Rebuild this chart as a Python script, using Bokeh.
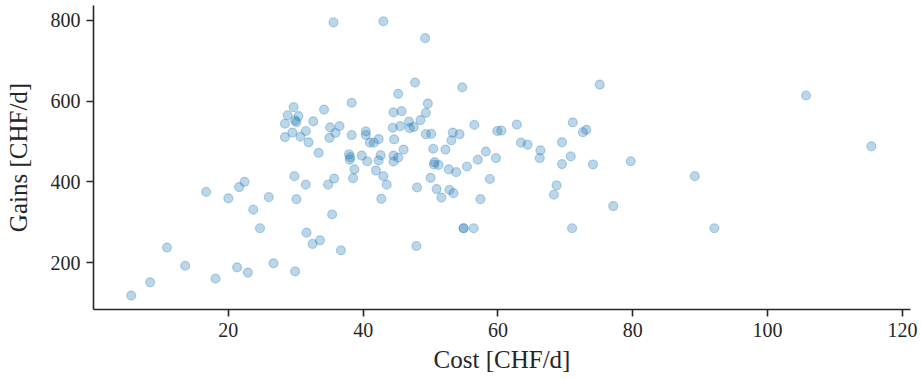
from bokeh.plotting import figure
from bokeh.models import FixedTicker, Range1d
from bokeh.embed import file_html
from bokeh.resources import INLINE

cost = [5.6, 8.4, 10.9, 13.6, 16.7, 18.1, 20.0, 21.3, 21.6, 22.4, 22.9, 23.7, 24.7, 26.0, 26.7,
        28.4, 28.4, 28.8, 29.5, 29.7, 29.8, 29.9, 29.9, 30.1, 30.1, 30.4, 30.7, 31.5, 31.5, 31.6,
        31.9, 32.5, 32.6, 33.4, 33.6, 34.2, 34.8, 35.0, 35.1, 35.4, 35.6, 35.7, 35.9, 36.5, 36.7,
        37.9, 38.1, 38.0, 38.3, 38.3, 38.5, 38.7, 39.8, 40.4, 40.4, 40.6, 41.0, 41.6, 41.9, 42.3,
        42.6, 42.3, 42.7, 43.0, 43.0, 43.5, 44.5, 44.4, 44.6, 44.5, 44.5, 45.2, 45.2, 45.5, 45.7,
        46.0, 46.8, 46.9, 47.5, 47.7, 47.9, 48.0, 48.5, 49.2, 49.3, 49.3, 49.6, 50.0, 50.1, 50.4,
        50.5, 50.6, 50.9, 51.2, 51.6, 52.2, 52.7, 52.8, 53.1, 53.3, 53.4, 53.8, 54.3, 54.7, 54.9,
        54.9, 56.4, 55.4, 56.5, 57.0, 57.4, 58.2, 58.8, 59.7, 59.9, 60.5, 62.8, 63.4, 64.4, 66.3,
        66.2, 68.3, 68.7, 69.5, 69.5, 70.8, 71.0, 71.1, 72.6, 73.1, 74.1, 75.1, 77.1, 79.7, 89.2,
        92.1, 105.7, 115.4]
gains = [118, 151, 237, 192, 375, 160, 359, 188, 387, 400, 175, 331, 285, 362, 198,
         544, 511, 565, 522, 585, 414, 178, 552, 548, 357, 563, 512, 526, 393, 274,
         498, 246, 550, 472, 255, 579, 393, 509, 535, 319, 795, 408, 521, 538, 230,
         468, 461, 455, 596, 516, 409, 431, 465, 525, 516, 451, 497, 497, 428, 506,
         466, 453, 358, 798, 414, 393, 572, 534, 505, 465, 450, 618, 460, 538, 575,
         480, 549, 533, 536, 646, 241, 386, 553, 756, 571, 518, 594, 410, 519, 482,
         443, 449, 382, 442, 361, 480, 431, 380, 503, 522, 372, 424, 518, 634, 285,
         285, 285, 438, 541, 455, 357, 475, 407, 459, 526, 527, 542, 497, 492, 478,
         459, 368, 391, 498, 444, 463, 285, 547, 523, 529, 443, 641, 340, 451, 414,
         285, 614, 488]

x_ticks = [20, 40, 60, 80, 100, 120]
y_ticks = [200, 400, 600, 800]

p = figure(width=922, height=379, output_backend="svg", toolbar_location=None,
           x_range=Range1d(0.0, 121.2), y_range=Range1d(83.6, 837))
p.min_border_left = 93
p.min_border_right = 12
p.min_border_top = 5
p.min_border_bottom = 70
p.outline_line_color = None
p.background_fill_color = "white"
p.border_fill_color = "white"
p.xgrid.visible = False
p.ygrid.visible = False

p.scatter(cost, gains, size=9, fill_color="#1f77b4", fill_alpha=0.3,
          line_color="#1f77b4", line_alpha=0.3, line_width=1.2)

for ax in (p.xaxis[0], p.yaxis[0]):
    ax.axis_line_color = "#262626"
    ax.axis_line_width = 1.6
    ax.major_tick_line_color = "#262626"
    ax.major_tick_line_width = 1.6
    ax.major_tick_out = 7
    ax.major_tick_in = 0
    ax.minor_tick_line_color = None
    ax.major_label_text_font = "Liberation Serif"
    ax.major_label_text_font_size = "20px"
    ax.major_label_text_color = "#262626"
    ax.axis_label_text_font = "Liberation Serif"
    ax.axis_label_text_font_size = "25px"
    ax.axis_label_text_font_style = "normal"
    ax.axis_label_text_color = "#262626"

p.xaxis.ticker = FixedTicker(ticks=x_ticks)
p.yaxis.ticker = FixedTicker(ticks=y_ticks)
p.xaxis.axis_label = "Cost [CHF/d]"
p.yaxis.axis_label = "Gains [CHF/d]"
p.xaxis.major_label_standoff = 6
p.yaxis.major_label_standoff = 6
p.xaxis.axis_label_standoff = 6
p.yaxis.axis_label_standoff = 16

open("out.html", "w").write(file_html(p, INLINE))
